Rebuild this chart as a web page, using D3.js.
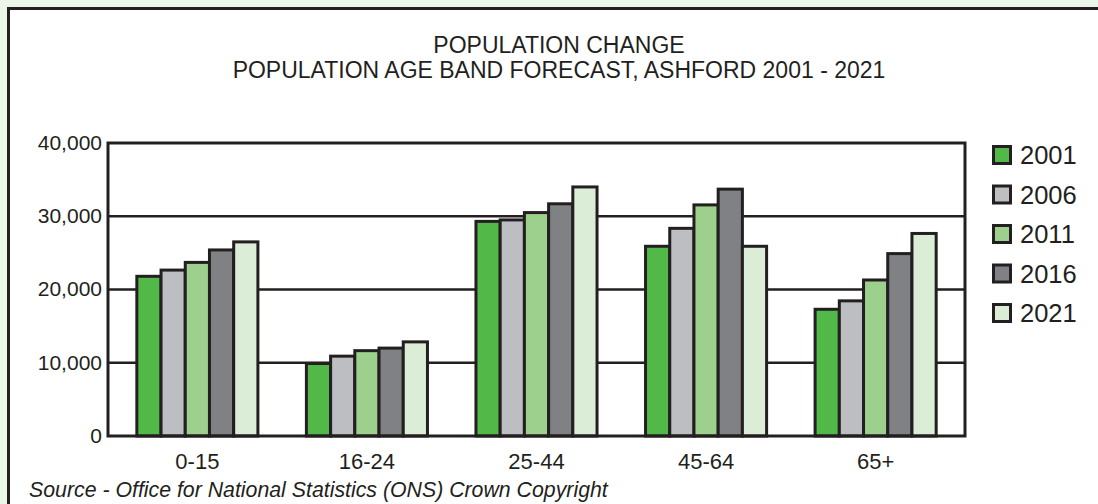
<!DOCTYPE html>
<html>
<head>
<meta charset="utf-8">
<script src="https://cdn.jsdelivr.net/npm/d3@7"></script>
<style>
  html, body { margin: 0; padding: 0; background: #ecf5ea; overflow: hidden; }
  svg { display: block; }
  text { font-family: "Liberation Sans", Arial, sans-serif; fill: #231f20; }
</style>
</head>
<body>
<svg id="chart" width="1098" height="504"></svg>
<script>
// Age bands and forecast years
const ageBands = ["0-15", "16-24", "25-44", "45-64", "65+"];
const years = ["2001", "2006", "2011", "2016", "2021"];

// Population per age band, one array per year
const pop2001 = [21800, 9900, 29300, 25900, 17300];
const pop2006 = [22650, 10900, 29500, 28350, 18450];
const pop2011 = [23700, 11650, 30500, 31550, 21300];
const pop2016 = [25400, 12000, 31700, 33700, 24900];
const pop2021 = [26500, 12850, 34000, 25900, 27650];
const seriesValues = [pop2001, pop2006, pop2011, pop2016, pop2021];

const yTicks = [0, 10000, 20000, 30000, 40000];
const yTickLabels = ["0", "10,000", "20,000", "30,000", "40,000"];

const colors = ["#52b848", "#bcbec2", "#9dd08c", "#808184", "#dbedd6"];
const ink = "#231f20";

const svg = d3.select("#chart");

// White panel, framed on its top and left edges
svg.append("rect")
  .attr("x", 8).attr("y", 8)
  .attr("width", 1090).attr("height", 496)
  .attr("fill", "#ffffff");
svg.append("path")
  .attr("d", "M8.5,504 V8.5 H1098")
  .attr("fill", "none")
  .attr("stroke", ink).attr("stroke-width", 3);

// Titles
svg.append("text")
  .attr("x", 559).attr("y", 53)
  .attr("text-anchor", "middle")
  .attr("font-size", 23)
  .text("POPULATION CHANGE");
svg.append("text")
  .attr("x", 559).attr("y", 78)
  .attr("text-anchor", "middle")
  .attr("font-size", 23)
  .text("POPULATION AGE BAND FORECAST, ASHFORD 2001 - 2021");

const plot = { left: 108, right: 965, top: 143, bottom: 436 };

const x = d3.scaleBand()
  .domain(ageBands)
  .range([plot.left, plot.right])
  .paddingInner(0.286)
  .paddingOuter(0.17);

const xInner = d3.scaleBand()
  .domain(years)
  .range([0, x.bandwidth()])
  .padding(0);

const y = d3.scaleLinear()
  .domain([0, 40000])
  .range([plot.bottom, plot.top]);

// Horizontal gridlines
svg.append("g")
  .selectAll("line")
  .data(yTicks.slice(1, -1))
  .join("line")
  .attr("x1", plot.left).attr("x2", plot.right)
  .attr("y1", d => y(d)).attr("y2", d => y(d))
  .attr("stroke", ink).attr("stroke-width", 2.5);

// Bars
const groups = svg.append("g")
  .selectAll("g")
  .data(ageBands)
  .join("g")
  .attr("transform", d => `translate(${x(d)},0)`);

groups.selectAll("rect")
  .data((band, i) => years.map((yr, s) => ({ yr, s, value: seriesValues[s][i] })))
  .join("rect")
  .attr("x", d => xInner(d.yr))
  .attr("width", xInner.bandwidth())
  .attr("y", d => y(d.value))
  .attr("height", d => y(0) - y(d.value))
  .attr("fill", d => colors[d.s])
  .attr("stroke", ink)
  .attr("stroke-width", 3);

// Plot frame
svg.append("rect")
  .attr("x", plot.left).attr("y", plot.top)
  .attr("width", plot.right - plot.left)
  .attr("height", plot.bottom - plot.top)
  .attr("fill", "none")
  .attr("stroke", ink).attr("stroke-width", 3);

// Y axis labels
const yAxis = d3.axisLeft(y)
  .tickValues(yTicks)
  .tickFormat((d, i) => yTickLabels[i])
  .tickSize(0)
  .tickPadding(6);
const yAxisG = svg.append("g")
  .attr("transform", `translate(${plot.left},0)`)
  .call(yAxis);
yAxisG.select(".domain").remove();
yAxisG.selectAll("text")
  .attr("font-family", "Liberation Sans, Arial, sans-serif")
  .attr("font-size", 21)
  .attr("fill", ink)
  .attr("dy", "0.3em");

// X axis labels
const xAxis = d3.axisBottom(x).tickSize(0).tickPadding(0);
const xAxisG = svg.append("g")
  .attr("transform", `translate(0,${plot.bottom})`)
  .call(xAxis);
xAxisG.select(".domain").remove();
xAxisG.selectAll("text")
  .attr("font-family", "Liberation Sans, Arial, sans-serif")
  .attr("font-size", 22)
  .attr("fill", ink)
  .attr("y", 33)
  .attr("dy", null);

// Legend
const legend = svg.append("g")
  .selectAll("g")
  .data(years)
  .join("g")
  .attr("transform", (d, i) => `translate(992,${155 + i * 39.5})`);
legend.append("rect")
  .attr("x", 1.5).attr("y", -8.5)
  .attr("width", 17).attr("height", 17)
  .attr("fill", (d, i) => colors[i])
  .attr("stroke", ink).attr("stroke-width", 3);
legend.append("text")
  .attr("x", 28).attr("y", 0)
  .attr("dy", "0.36em")
  .attr("font-size", 25.5)
  .text(d => d);

// Source note
svg.append("text")
  .attr("x", 29).attr("y", 497)
  .attr("font-size", 21.3)
  .attr("font-style", "italic")
  .text("Source - Office for National Statistics (ONS) Crown Copyright");
</script>
</body>
</html>
